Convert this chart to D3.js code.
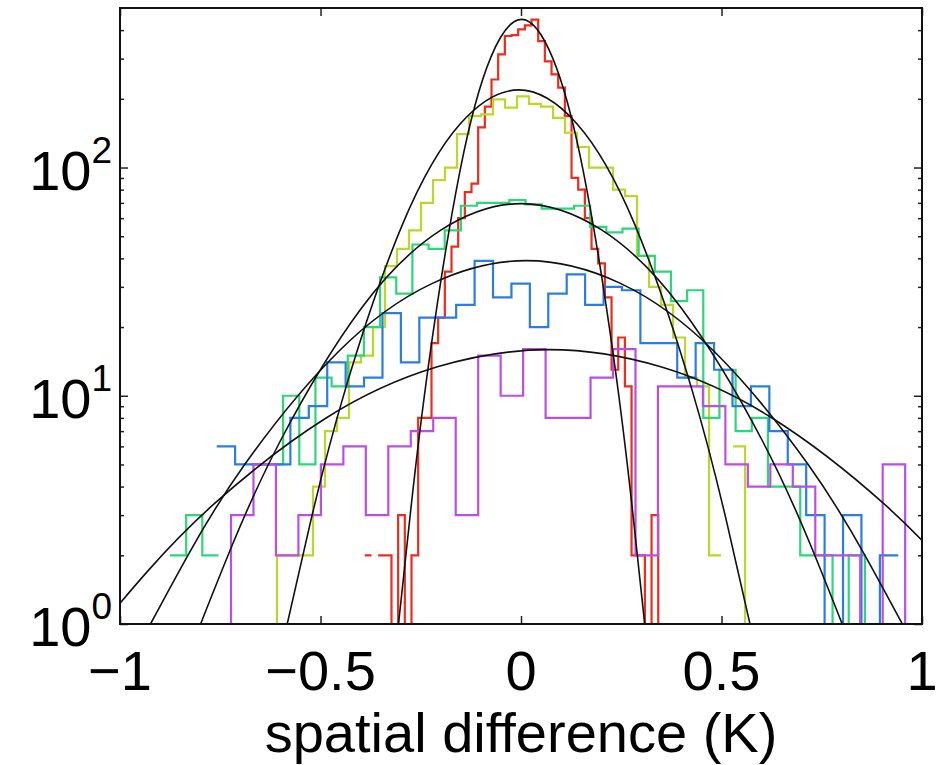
<!DOCTYPE html>
<html>
<head>
<meta charset="utf-8">
<script src="https://cdn.jsdelivr.net/npm/d3@7"></script>
<style>
body { margin: 0; background: #fff; }
text { font-family: "Liberation Sans", Arial, Helvetica, sans-serif; fill: #000; }
</style>
</head>
<body>
<div id="canvas"></div>
<script>
"use strict"

let svgWidth = 938
let svgHeight = 765

// plot box in pixels
let margin = { top: 8, right: 16, bottom: 141, left: 120 }

/* Histogram data: left edge of first bin, bin width (K), counts per bin */
let redStart = -0.3895, redWidth = 0.01663
let redCounts = [2, 0, 2, 2, 1, 3, 1, 2, 8, 8, 17, 22, 35, 45, 60, 78, 85, 150, 185, 243,
    313, 377, 380, 403, 420, 445, 358, 292, 256, 224, 168, 90, 80, 60, 44, 38, 27, 13, 18, 11,
    2, 2, 1, 3, 1, 1]

let yellowStart = -0.7282, yellowWidth = 0.02993
let yellowCounts = [1, 1, 0, 1, 2, 2, 2, 4, 7, 8, 14, 15, 20, 37, 44, 53, 70, 88, 100, 140,
    168, 171, 199, 183, 205, 190, 185, 165, 142, 123, 100, 100, 80, 75, 41, 30, 25, 18, 12, 11,
    2, 0, 6, 1]

let greenStart = -0.8753, greenWidth = 0.0403
let greenCounts = [2, 3, 2, 0, 0, 5, 5, 10, 5, 12, 11, 15, 20, 33, 28, 46, 44, 53, 68, 70,
    70, 72, 69, 66, 66, 68, 55, 52, 54, 41, 35, 26, 29, 8, 13, 7, 8, 4, 4, 2,
    2, 1, 2, 1]

let blueStart = -0.7589, blueWidth = 0.04594
let blueCounts = [6, 5, 5, 5, 8, 9, 14, 11, 12, 23, 14, 22, 22, 25, 39, 27, 31, 20, 28, 34,
    25, 30, 29, 17, 17, 12, 17, 13, 9, 11, 7, 5, 3, 1, 3, 1, 2]

let purpleStart = -1.0034, purpleWidth = 0.05604
let purpleCounts = [1, 1, 1, 0, 1, 3, 5, 2, 3, 5, 6, 3, 6, 7, 8, 3, 15, 10, 16, 8,
    8, 12, 16, 2, 11, 11, 9, 5, 4, 5, 4, 2, 2, 1, 5, 1]

/* Gaussian fit curves, points [x, count] */
let redFit = [[-0.3055, 1], [-0.2748, 3.18], [-0.2288, 14.4], [-0.152, 97], [-0.0753, 304],
    [0.0015, 446], [0.0783, 304], [0.155, 97], [0.2318, 14.4], [0.2778, 3.18], [0.3085, 1]]
let yellowFit = [[-0.583, 1], [-0.5253, 2.78], [-0.4388, 10.56], [-0.2945, 56.9], [-0.1503, 156.3],
    [-0.006, 218.8], [0.1383, 156.3], [0.2825, 56.9], [0.4268, 10.56], [0.5133, 2.78], [0.571, 1]]
let greenFit = [[-0.799, 1], [-0.719, 2.24], [-0.599, 6.4], [-0.399, 24.07], [-0.199, 53.3],
    [0.001, 69.5], [0.201, 53.3], [0.401, 24.07], [0.601, 6.4], [0.721, 2.24], [0.801, 1]]
let blueFit = [[-0.924, 1], [-0.83, 2.01], [-0.69, 4.97], [-0.455, 15.63], [-0.221, 31.08],
    [0.0135, 39.1], [0.248, 31.08], [0.482, 15.63], [0.717, 4.97], [0.857, 2.01], [0.951, 1]]
let purpleFit = [[-1.044, 1], [-0.9326, 1.692], [-0.7655, 3.357], [-0.487, 7.97], [-0.2085, 13.39],
    [0.07, 15.92], [0.3485, 13.39], [0.627, 7.97], [0.9055, 3.357], [1.0726, 1.692], [1.184, 1]]

let xTicks = [-1, -0.5, 0, 0.5, 1]
let xTickLabels = ["\u22121", "\u22120.5", "0", "0.5", "1"]
let yTicks = [1, 10, 100]
let yTickExponents = ["0", "1", "2"]
let xDomain = [-1, 1]
let yDomain = [1, 500]
let xLabel = "spatial difference (K)"

let svg = d3.select("#canvas")
    .append("svg")
    .attr("width", svgWidth)
    .attr("height", svgHeight)

let width = svgWidth - margin.left - margin.right
let height = svgHeight - margin.top - margin.bottom

let xScale = d3.scaleLinear().domain(xDomain).range([0, width])
let yScale = d3.scaleLog().domain(yDomain).range([height, 0])

let chart = svg.append("g")
    .attr("transform", `translate(${margin.left},${margin.top})`)

chart.append("clipPath")
    .attr("id", "plotClip")
    .append("rect")
    .attr("width", width)
    .attr("height", height)

let plot = chart.append("g").attr("clip-path", "url(#plotClip)")

// turn bins into stair points; empty bins break the line (log axis)
function stairPoints(start, binWidth, counts) {
    let pts = []
    for (let i = 0; i < counts.length; i++) {
        pts.push([start + i * binWidth, counts[i]])
        pts.push([start + (i + 1) * binWidth, counts[i]])
    }
    return pts
}

let stairLine = d3.line()
    .defined(d => d[1] > 0)
    .x(d => xScale(d[0]))
    .y(d => yScale(d[1]))

let fitLine = d3.line()
    .curve(d3.curveNatural)
    .x(d => xScale(d[0]))
    .y(d => yScale(d[1]))

let histograms = [
    { start: redStart, w: redWidth, counts: redCounts, color: "#ee2b1c" },
    { start: yellowStart, w: yellowWidth, counts: yellowCounts, color: "#bcd62a" },
    { start: greenStart, w: greenWidth, counts: greenCounts, color: "#2fd57a" },
    { start: blueStart, w: blueWidth, counts: blueCounts, color: "#2a7ee0" },
    { start: purpleStart, w: purpleWidth, counts: purpleCounts, color: "#bb4fe3" }
]

histograms.forEach(function (h) {
    plot.append("path")
        .attr("d", stairLine(stairPoints(h.start, h.w, h.counts)))
        .attr("fill", "none")
        .attr("stroke", h.color)
        .attr("stroke-width", 2.2)
})

let fits = [redFit, yellowFit, greenFit, blueFit, purpleFit]
fits.forEach(function (f) {
    plot.append("path")
        .attr("d", fitLine(f))
        .attr("fill", "none")
        .attr("stroke", "#111")
        .attr("stroke-width", 1.6)
})

/* Axes box and ticks (inward, on all four sides) */
let xAxisBottom = d3.axisBottom(xScale).tickValues(xTicks).tickSize(-8).tickFormat("")
let xAxisTop = d3.axisTop(xScale).tickValues(xTicks).tickSize(-8).tickFormat("")

let minorVals = []
for (let dec = 1; dec < 500; dec *= 10) {
    for (let m = 2; m <= 9; m++) {
        if (m * dec < 500) minorVals.push(m * dec)
    }
}

let yAxisLeft = d3.axisLeft(yScale).tickValues(yTicks).tickSize(-8).tickFormat("")
let yAxisRight = d3.axisRight(yScale).tickValues(yTicks).tickSize(-8).tickFormat("")
let yMinorLeft = d3.axisLeft(yScale).tickValues(minorVals).tickSize(-4).tickFormat("")
let yMinorRight = d3.axisRight(yScale).tickValues(minorVals).tickSize(-4).tickFormat("")

let axes = [
    chart.append("g").attr("transform", `translate(0,${height})`).call(xAxisBottom),
    chart.append("g").call(xAxisTop),
    chart.append("g").call(yAxisLeft),
    chart.append("g").call(yMinorLeft),
    chart.append("g").attr("transform", `translate(${width},0)`).call(yAxisRight),
    chart.append("g").attr("transform", `translate(${width},0)`).call(yMinorRight)
]
axes.forEach(function (a) {
    a.select(".domain").remove()
    a.selectAll("line").attr("stroke", "#222").attr("stroke-width", 1.5)
})

chart.append("rect")
    .attr("width", width)
    .attr("height", height)
    .attr("fill", "none")
    .attr("stroke", "#111")
    .attr("stroke-width", 2)

/* Tick labels */
chart.selectAll("text.xtick")
    .data(xTicks)
    .join("text")
    .attr("class", "xtick")
    .attr("x", d => xScale(d))
    .attr("y", height + 66)
    .attr("text-anchor", "middle")
    .style("font-size", "56px")
    .text((d, i) => xTickLabels[i])

let yLabels = chart.selectAll("text.ytick")
    .data(yTicks)
    .join("text")
    .attr("class", "ytick")
    .attr("x", -8)
    .attr("y", d => yScale(d) + 22)
    .attr("text-anchor", "end")
    .style("font-size", "56px")

yLabels.append("tspan").text("10")
yLabels.append("tspan")
    .attr("dy", -27)
    .style("font-size", "37px")
    .text((d, i) => yTickExponents[i])

chart.append("text")
    .attr("x", width / 2)
    .attr("y", height + 128)
    .attr("text-anchor", "middle")
    .style("font-size", "56px")
    .text(xLabel)
</script>
</body>
</html>
